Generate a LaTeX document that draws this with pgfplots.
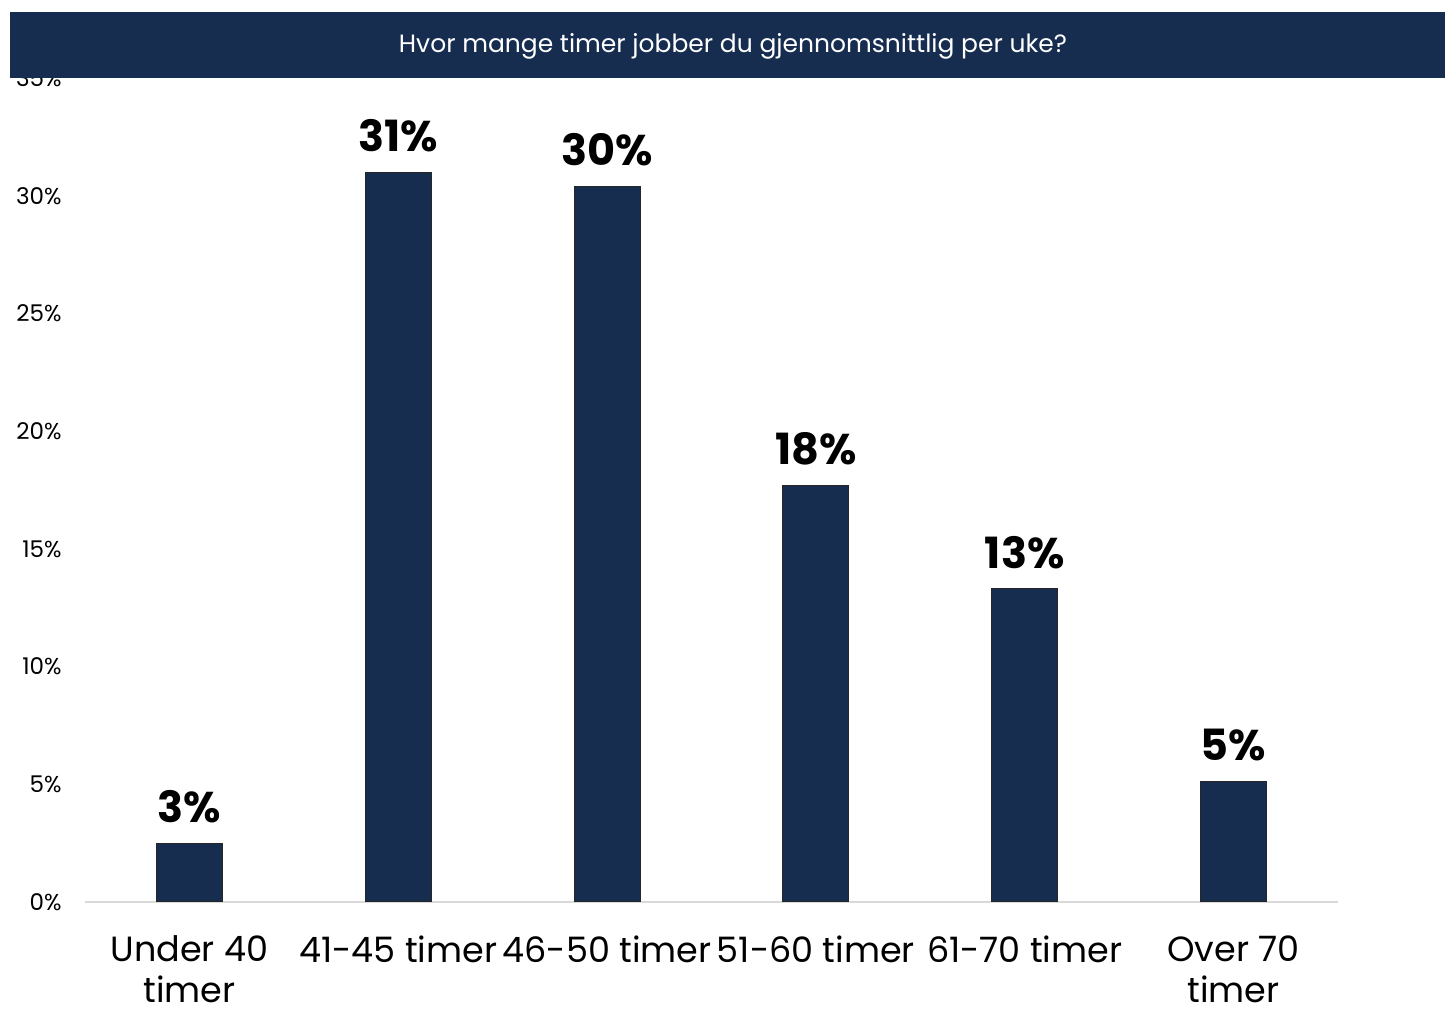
\documentclass[border=0pt]{standalone}
\usepackage{pgfplots}
\pgfplotsset{compat=1.18}
\usepackage{fontspec}
\setmainfont{Poppins}
\definecolor{navy}{RGB}{23,45,80}
\definecolor{axisgray}{RGB}{217,217,217}

\begin{document}
\begin{tikzpicture}
\useasboundingbox (0,0) rectangle (722.5pt,505pt);
\begin{axis}[
  at={(42.5pt,54pt)}, anchor=south west,
  scale only axis, width=626.5pt, height=411.85pt,
  xmin=-0.5, xmax=5.5, ymin=0, ymax=35,
  separate axis lines,
  axis x line*=bottom, axis y line*=left,
  axis line style={-},
  x axis line style={axisgray, line width=1pt},
  y axis line style={draw=none},
  xtick=data,
  xticklabels={{Under 40\\timer},{41-45 timer},{46-50 timer},{51-60 timer},{61-70 timer},{Over 70\\timer}},
  ytick={0,5,...,35},
  xtick style={draw=none}, ytick style={draw=none},
  yticklabel={\pgfmathprintnumber{\tick}\%},
  /pgf/number format/assume math mode=true,
  yticklabel style={inner sep=0pt, xshift=-11.5pt, font=\fontsize{11.5}{13}\selectfont},
  xticklabel style={inner sep=0pt, yshift=-12.5pt, anchor=north, align=center,
    font=\fontsize{17.5}{20.5}\selectfont},
  ybar, bar width=33pt,
  point meta=explicit symbolic,
  nodes near coords={\pgfplotspointmeta},
  nodes near coords style={font=\fontsize{21.5}{24}\selectfont\bfseries, inner sep=0pt,
    anchor=south, yshift=10pt, text=black},
]
\addplot[fill=navy, draw=black!85, line width=0.5pt] coordinates {
  (0,2.5) [3\%]
  (1,31.0) [31\%]
  (2,30.4) [30\%]
  (3,17.7) [18\%]
  (4,13.3) [13\%]
  (5,5.1) [5\%]
};
\end{axis}
\fill[navy] (5pt,466pt) rectangle (722.5pt,499pt);
\node[anchor=base, text=white, inner sep=0pt, font=\fontsize{12.5}{15}\selectfont]
  at (366.5pt,478.5pt) {Hvor mange timer jobber du gjennomsnittlig per uke?};
\end{tikzpicture}
\end{document}
